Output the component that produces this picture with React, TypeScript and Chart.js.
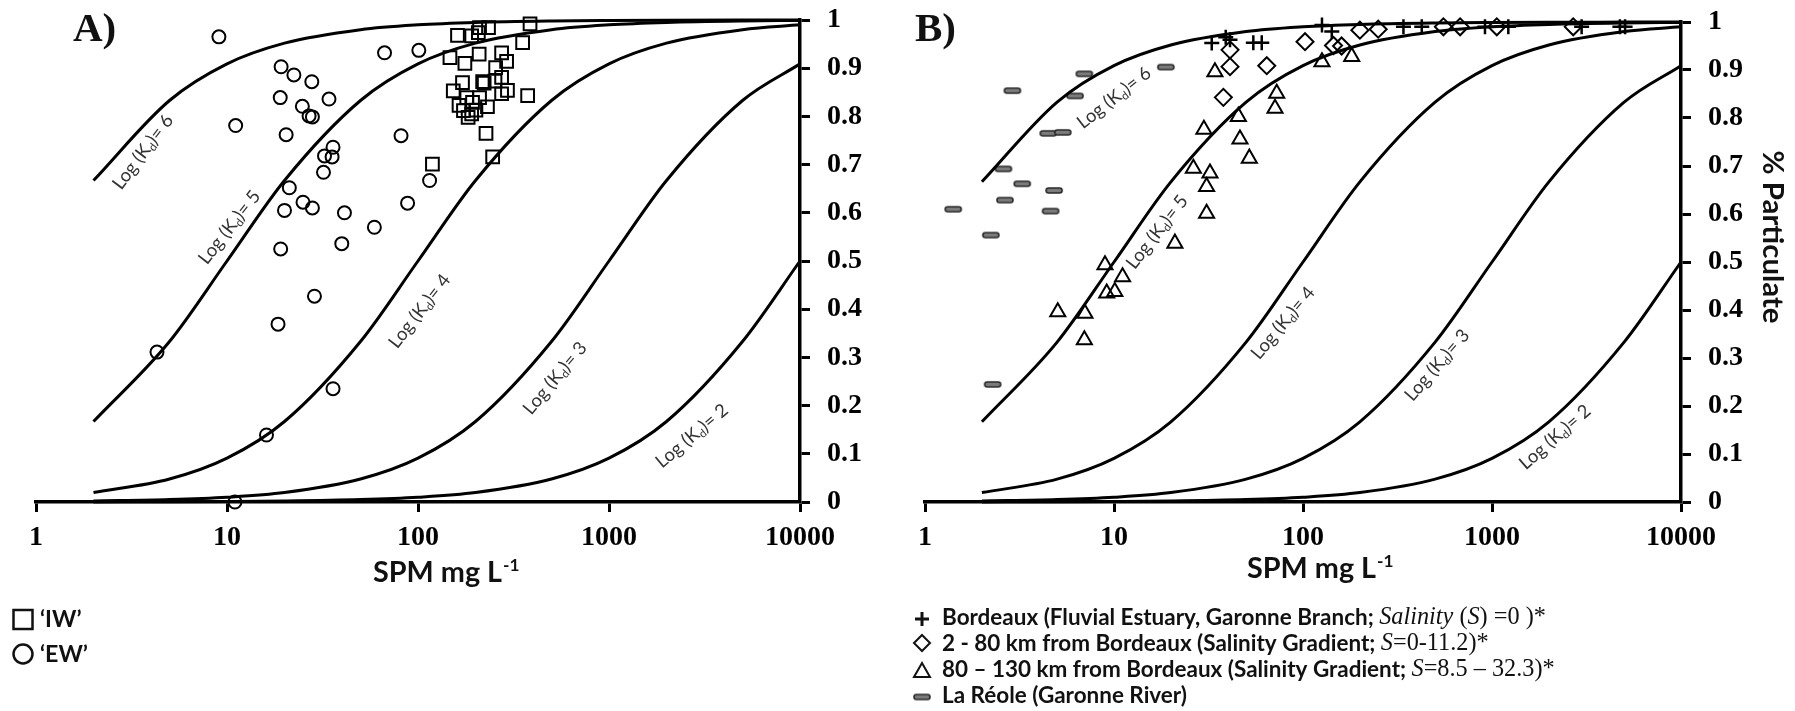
import React, { useEffect, useRef } from 'react';
import { Chart, registerables } from 'chart.js';

Chart.register(...registerables);

// ---------------- data ----------------
const xTickValues = [1, 10, 100, 1000, 10000];

// model curves: % particulate vs SPM for log(Kd) = 6..2
const curveSPM = [2, 5, 10, 20, 50, 100, 200, 500, 1000, 2000, 5000, 10000];
const curveLogKd6 = [0.667, 0.833, 0.909, 0.952, 0.98, 0.99, 0.995, 0.998, 0.999, 0.9995, 0.9998, 0.9999];
const curveLogKd5 = [0.167, 0.333, 0.5, 0.667, 0.833, 0.909, 0.952, 0.98, 0.99, 0.995, 0.998, 0.999];
const curveLogKd4 = [0.0196, 0.0476, 0.0909, 0.167, 0.333, 0.5, 0.667, 0.833, 0.909, 0.952, 0.98, 0.99];
const curveLogKd3 = [0.002, 0.005, 0.0099, 0.0196, 0.0476, 0.0909, 0.167, 0.333, 0.5, 0.667, 0.833, 0.909];
const curveLogKd2 = [0.0002, 0.0005, 0.001, 0.002, 0.005, 0.0099, 0.0196, 0.0476, 0.0909, 0.167, 0.333, 0.5];

// Panel A — 'IW' (squares)
const iwSPM = [386, 353, 161, 191, 207, 210, 234, 147, 176, 209, 274, 291, 255, 274, 253, 218, 171, 153, 294, 274, 375, 180, 210, 193, 231, 173, 201, 183, 191, 227, 119, 246, 222, 164];
const iwFrac = [0.992, 0.953, 0.968, 0.967, 0.974, 0.984, 0.984, 0.922, 0.91, 0.929, 0.932, 0.914, 0.901, 0.881, 0.873, 0.872, 0.87, 0.853, 0.854, 0.847, 0.843, 0.839, 0.839, 0.829, 0.82, 0.812, 0.813, 0.798, 0.805, 0.765, 0.701, 0.716, 0.869, 0.823];

// Panel A — 'EW' (circles)
const ewSPM = [9.07, 19.2, 22.4, 27.8, 19.0, 34.2, 24.8, 26.9, 28.0, 11.1, 20.4, 81.5, 66.8, 101, 35.9, 32.4, 35.5, 32.0, 115, 21.2, 25.0, 28.0, 20.0, 41.2, 88.2, 59.1, 19.1, 39.9, 28.7, 18.5, 4.3, 35.9, 16.1, 11.0];
const ewFrac = [0.965, 0.903, 0.886, 0.872, 0.839, 0.836, 0.821, 0.801, 0.799, 0.781, 0.762, 0.76, 0.932, 0.937, 0.736, 0.718, 0.716, 0.684, 0.667, 0.652, 0.622, 0.61, 0.605, 0.6, 0.62, 0.57, 0.525, 0.536, 0.427, 0.369, 0.311, 0.235, 0.139, 0.0];

// Panel B — Bordeaux (+)
const bordeauxSPM = [32.9, 39, 41.1, 54.6, 60.5, 126, 142, 340, 425, 918, 1220, 2980, 4750, 5060];
const bordeauxFrac = [0.956, 0.968, 0.963, 0.957, 0.957, 0.994, 0.98, 0.99, 0.99, 0.99, 0.99, 0.99, 0.99, 0.99];

// Panel B — 2-80 km from Bordeaux (diamonds)
const gradientSPM = [41.1, 41.1, 37.9, 64.3, 102.5, 145, 160, 200, 250, 553, 678, 1060, 2690];
const gradientFrac = [0.942, 0.907, 0.843, 0.909, 0.959, 0.951, 0.95, 0.983, 0.985, 0.99, 0.99, 0.99, 0.99];

// Panel B — 80-130 km from Bordeaux (triangles)
const lowerSPM = [34.2, 126, 181, 72.6, 71.1, 45.5, 29.9, 46.4, 52.0, 26.3, 32.2, 30.9, 30.9, 21.0, 8.96, 11.1, 9.15, 10.1, 5.04, 7.02, 6.97];
const lowerFrac = [0.896, 0.917, 0.928, 0.851, 0.82, 0.803, 0.776, 0.756, 0.716, 0.695, 0.685, 0.657, 0.601, 0.539, 0.494, 0.469, 0.435, 0.438, 0.396, 0.393, 0.3375];

// Panel B — La Réole (dashes)
const reoleSPM = [2.9, 6.97, 6.22, 18.8, 4.49, 5.36, 2.6, 3.27, 2.65, 4.82, 4.62, 1.41, 2.23, 2.28];
const reoleFrac = [0.857, 0.892, 0.846, 0.906, 0.768, 0.77, 0.694, 0.663, 0.629, 0.649, 0.606, 0.61, 0.556, 0.245];

// ---------------- styling ----------------
const SERIF = '"Liberation Serif", "Times New Roman", serif';
const SANS = 'Lato, "Open Sans", sans-serif';
const INK = '#000';

const curveSets = [
  { kd: '6', vals: curveLogKd6 },
  { kd: '5', vals: curveLogKd5 },
  { kd: '4', vals: curveLogKd4 },
  { kd: '3', vals: curveLogKd3 },
  { kd: '2', vals: curveLogKd2 },
];

function pts(xs: number[], ys: number[]) {
  return xs.map((x, i) => ({ x, y: ys[i] }));
}

function makeDash(): HTMLCanvasElement {
  const c = document.createElement('canvas');
  c.width = 20;
  c.height = 9;
  const g = c.getContext('2d')!;
  g.beginPath();
  const x = 2, y = 2, w = 16, h = 5, r = 2.5;
  g.moveTo(x + r, y);
  g.lineTo(x + w - r, y);
  g.arc(x + w - r, y + r, r, -Math.PI / 2, Math.PI / 2);
  g.lineTo(x + r, y + h);
  g.arc(x + r, y + r, r, Math.PI / 2, Math.PI * 1.5);
  g.closePath();
  g.fillStyle = '#7b7b7b';
  g.fill();
  g.lineWidth = 1.6;
  g.strokeStyle = '#2a2a2a';
  g.stroke();
  return c;
}

function curveDatasets() {
  return curveSets.map((c) => ({
    label: 'Log (Kd)= ' + c.kd,
    data: pts(curveSPM, c.vals),
    showLine: true,
    pointRadius: 0,
    borderColor: INK,
    borderWidth: 3,
    cubicInterpolationMode: 'monotone',
    fill: false,
    order: 0,
    clip: false,
  }));
}

function markerSet(label: string, xs: number[], ys: number[], style: any, radius: number, bw = 2) {
  return {
    label,
    data: pts(xs, ys),
    pointStyle: style,
    pointRadius: radius,
    borderColor: INK,
    borderWidth: bw,
    backgroundColor: 'rgba(0,0,0,0)',
    showLine: false,
    order: 1,
    clip: false,
  };
}

function fitSize(ctx: CanvasRenderingContext2D, text: string, fontTpl: (s: number) => string, target: number) {
  ctx.font = fontTpl(20);
  const w = ctx.measureText(text).width;
  return (20 * target) / w;
}

function drawKdLabel(ctx: CanvasRenderingContext2D, cx: number, cy: number, deg: number, kd: string) {
  const target = 88;
  const base = 15;
  const segs = [
    { t: 'Log (K', f: `${base}px ${SANS}`, dy: 0 },
    { t: 'd', f: `${base * 0.62}px ${SANS}`, dy: base * 0.28 },
    { t: ')= ' + kd, f: `${base}px ${SANS}`, dy: 0 },
  ];
  let tot = 0;
  for (const s of segs) { ctx.font = s.f; tot += ctx.measureText(s.t).width; }
  const k = target / tot;
  ctx.save();
  ctx.translate(cx, cy);
  ctx.rotate((deg * Math.PI) / 180);
  ctx.scale(k, k);
  ctx.fillStyle = '#333';
  ctx.textBaseline = 'middle';
  ctx.textAlign = 'left';
  let x = -tot / 2;
  for (const s of segs) {
    ctx.font = s.f;
    ctx.fillText(s.t, x, s.dy);
    x += ctx.measureText(s.t).width;
  }
  ctx.restore();
}

function drawXTitle(ctx: CanvasRenderingContext2D, left: number, baseline: number) {
  const tpl = (s: number) => `bold ${s}px ${SANS}`;
  const main = 'SPM mg L';
  const sup = '-1';
  ctx.font = tpl(20);
  const wMain = ctx.measureText(main).width;
  ctx.font = tpl(12);
  const wSup = ctx.measureText(sup).width;
  const size = (20 * 147) / (wMain + wSup + 1);
  ctx.fillStyle = '#111';
  ctx.textBaseline = 'alphabetic';
  ctx.textAlign = 'left';
  ctx.font = tpl(size);
  ctx.fillText(main, left, baseline);
  const mw = ctx.measureText(main).width;
  ctx.font = tpl(size * 0.6);
  ctx.fillText(sup, left + mw + 1, baseline - size * 0.38);
}

type Seg = { t: string; f: (s: number) => string };

function drawRich(ctx: CanvasRenderingContext2D, x: number, y: number, segs: Seg[], size: number) {
  ctx.textBaseline = 'middle';
  ctx.textAlign = 'left';
  for (const s of segs) {
    ctx.font = s.f(size);
    ctx.fillText(s.t, x, y);
    x += ctx.measureText(s.t).width;
  }
  return x;
}

const sansB = (s: number) => `bold ${s}px ${SANS}`;
const serifR = (s: number) => `${s * 1.08}px ${SERIF}`;
const serifI = (s: number) => `italic ${s * 1.08}px ${SERIF}`;

const kdPlacementA = [
  { kd: '6', x: 3.63, y: 0.726, a: -53 },
  { kd: '5', x: 10.3, y: 0.57, a: -52 },
  { kd: '4', x: 102, y: 0.396, a: -52 },
  { kd: '3', x: 522, y: 0.257, a: -50 },
  { kd: '2', x: 2720, y: 0.137, a: -40 },
];
const kdPlacementB = [
  { kd: '6', x: 10, y: 0.842, a: -38 },
  { kd: '5', x: 16.9, y: 0.5625, a: -52 },
  { kd: '4', x: 78.4, y: 0.373, a: -50 },
  { kd: '3', x: 512, y: 0.285, a: -49 },
  { kd: '2', x: 2155, y: 0.135, a: -41 },
];

function drawCross(ctx: CanvasRenderingContext2D, x: number, y: number, r: number) {
  ctx.beginPath();
  ctx.moveTo(x - r, y); ctx.lineTo(x + r, y);
  ctx.moveTo(x, y - r); ctx.lineTo(x, y + r);
  ctx.stroke();
}

const textPluginA = {
  id: 'panelTextA',
  afterDraw(chart: any) {
    const ctx: CanvasRenderingContext2D = chart.ctx;
    const xs = chart.scales.x, ys = chart.scales.y;
    ctx.save();
    ctx.fillStyle = '#111';
    ctx.font = `bold 41px ${SERIF}`;
    ctx.textBaseline = 'alphabetic';
    ctx.textAlign = 'left';
    ctx.fillText('A)', 73, 41);
    for (const p of kdPlacementA) {
      drawKdLabel(ctx, xs.getPixelForValue(p.x), ys.getPixelForValue(p.y), p.a, p.kd);
    }
    drawXTitle(ctx, 373, 582);
    ctx.strokeStyle = '#111';
    ctx.lineWidth = 2.5;
    ctx.strokeRect(13.5, 610, 19, 19);
    ctx.beginPath();
    ctx.arc(23, 654, 9.5, 0, Math.PI * 2);
    ctx.stroke();
    ctx.fillStyle = '#111';
    const size = fitSize(ctx, '\u2018EW\u2019', sansB, 48);
    drawRich(ctx, 40, 620, [{ t: '\u2018IW\u2019', f: sansB }], size);
    drawRich(ctx, 40, 655, [{ t: '\u2018EW\u2019', f: sansB }], size);
    ctx.restore();
  },
};

const textPluginB = {
  id: 'panelTextB',
  afterDraw(chart: any) {
    const ctx: CanvasRenderingContext2D = chart.ctx;
    const xs = chart.scales.x, ys = chart.scales.y;
    ctx.save();
    ctx.fillStyle = '#111';
    ctx.font = `bold 41px ${SERIF}`;
    ctx.textBaseline = 'alphabetic';
    ctx.textAlign = 'left';
    ctx.fillText('B)', 10, 41);
    for (const p of kdPlacementB) {
      drawKdLabel(ctx, xs.getPixelForValue(p.x), ys.getPixelForValue(p.y), p.a, p.kd);
    }
    drawXTitle(ctx, 342, 578);
    const ySize = fitSize(ctx, '% Particulate', sansB, 173);
    ctx.save();
    ctx.translate(867, 237);
    ctx.rotate(Math.PI / 2);
    ctx.font = sansB(ySize);
    ctx.textAlign = 'center';
    ctx.textBaseline = 'middle';
    ctx.fillStyle = '#111';
    ctx.fillText('% Particulate', 0, 0);
    ctx.restore();
    const lx = 17, tx = 37;
    const size = fitSize(ctx, 'La Réole (Garonne River)', sansB, 245);
    ctx.fillStyle = '#111';
    ctx.strokeStyle = '#111';
    ctx.lineWidth = 3;
    drawCross(ctx, lx, 619, 7);
    drawRich(ctx, tx, 618, [
      { t: 'Bordeaux (Fluvial Estuary, Garonne Branch; ', f: sansB },
      { t: 'Salinity', f: serifI },
      { t: ' (', f: serifR },
      { t: 'S', f: serifI },
      { t: ') =0 )*', f: serifR },
    ], size);
    ctx.lineWidth = 2;
    ctx.beginPath();
    ctx.moveTo(lx, 635); ctx.lineTo(lx + 8, 643); ctx.lineTo(lx, 651); ctx.lineTo(lx - 8, 643); ctx.closePath();
    ctx.stroke();
    drawRich(ctx, tx, 644, [
      { t: '2 - 80 km from Bordeaux (Salinity Gradient; ', f: sansB },
      { t: 'S', f: serifI },
      { t: '=0-11.2)*', f: serifR },
    ], size);
    ctx.beginPath();
    ctx.moveTo(lx, 663); ctx.lineTo(lx + 8, 677); ctx.lineTo(lx - 8, 677); ctx.closePath();
    ctx.stroke();
    drawRich(ctx, tx, 670, [
      { t: '80 \u2013 130 km from Bordeaux (Salinity Gradient; ', f: sansB },
      { t: 'S', f: serifI },
      { t: '=8.5 \u2013 32.3)*', f: serifR },
    ], size);
    const dash = makeDash();
    ctx.drawImage(dash, lx - 10, 697 - 4.5);
    drawRich(ctx, tx, 696, [{ t: 'La Réole (Garonne River)', f: sansB }], size);
    ctx.restore();
  },
};

function buildConfig(spec: any): any {
  const axisGrid = {
    display: true,
    drawOnChartArea: false,
    drawTicks: true,
    tickLength: 10,
    tickColor: INK,
    tickWidth: 3,
  };
  const axisBorder = { display: true, color: INK, width: 3.5 };
  return {
    type: 'scatter',
    data: { datasets: [...curveDatasets(), ...spec.markers] },
    options: {
      responsive: false,
      maintainAspectRatio: false,
      animation: false,
      events: [],
      layout: { padding: { left: spec.left, top: spec.top, right: 0, bottom: 0 } },
      plugins: {
        legend: { display: false },
        tooltip: { enabled: false },
        title: { display: false },
      },
      scales: {
        x: {
          type: 'logarithmic',
          position: 'bottom',
          min: 1,
          max: 10000,
          afterBuildTicks: (s: any) => {
            s.ticks = xTickValues.map((v) => ({ value: v, major: true }));
          },
          afterFit: (s: any) => {
            s.height = spec.xAxisHeight;
            s.paddingLeft = 0;
            s.paddingRight = 0;
            s.paddingTop = 0;
            s.paddingBottom = 0;
          },
          ticks: {
            callback: (v: any) => String(v),
            autoSkip: false,
            maxRotation: 0,
            minRotation: 0,
            padding: 9,
            color: INK,
            font: { family: SERIF, size: 28, weight: 'bold' },
          },
          grid: axisGrid,
          border: axisBorder,
        },
        y: {
          type: 'linear',
          position: 'right',
          min: 0,
          max: 1,
          afterFit: (s: any) => {
            s.width = spec.yAxisWidth;
            s.paddingTop = 0;
            s.paddingBottom = 0;
            s.paddingLeft = 0;
            s.paddingRight = 0;
          },
          ticks: {
            stepSize: 0.1,
            callback: (v: any) => String(Math.round(Number(v) * 10) / 10),
            padding: 17,
            color: INK,
            font: { family: SERIF, size: 28, weight: 'bold' },
          },
          grid: axisGrid,
          border: axisBorder,
        },
      },
    },
    plugins: [spec.plugin],
  };
}

export default function App() {
  const refA = useRef<HTMLCanvasElement>(null);
  const refB = useRef<HTMLCanvasElement>(null);

  useEffect(() => {
    const dash = makeDash();
    const specA = {
      left: 36,
      top: 20,
      xAxisHeight: 209,
      yAxisWidth: 105,
      markers: [
        markerSet("'IW'", iwSPM, iwFrac, 'rect', 9, 2),
        markerSet("'EW'", ewSPM, ewFrac, 'circle', 6.5, 2),
      ],
      plugin: textPluginA,
    };
    const specB = {
      left: 20,
      top: 22,
      xAxisHeight: 209,
      yAxisWidth: 114,
      markers: [
        markerSet('Bordeaux', bordeauxSPM, bordeauxFrac, 'cross', 7.5, 2.5),
        markerSet('2 - 80 km', gradientSPM, gradientFrac, 'rectRot', 8.5, 2),
        markerSet('80 - 130 km', lowerSPM, lowerFrac, 'triangle', 8.7, 2),
        markerSet('La Réole', reoleSPM, reoleFrac, dash, 8, 1),
      ],
      plugin: textPluginB,
    };
    const a = new Chart(refA.current as HTMLCanvasElement, buildConfig(specA));
    const b = new Chart(refB.current as HTMLCanvasElement, buildConfig(specB));
    return () => {
      a.destroy();
      b.destroy();
    };
  }, []);

  return (
    <div style={{ position: 'absolute', left: 0, top: 0, width: 1795, height: 711, background: '#fff', overflow: 'hidden' }}>
      <canvas ref={refA} width={905} height={711} style={{ position: 'absolute', left: 0, top: 0, width: 905, height: 711 }} />
      <canvas ref={refB} width={890} height={711} style={{ position: 'absolute', left: 905, top: 0, width: 890, height: 711 }} />
    </div>
  );
}
